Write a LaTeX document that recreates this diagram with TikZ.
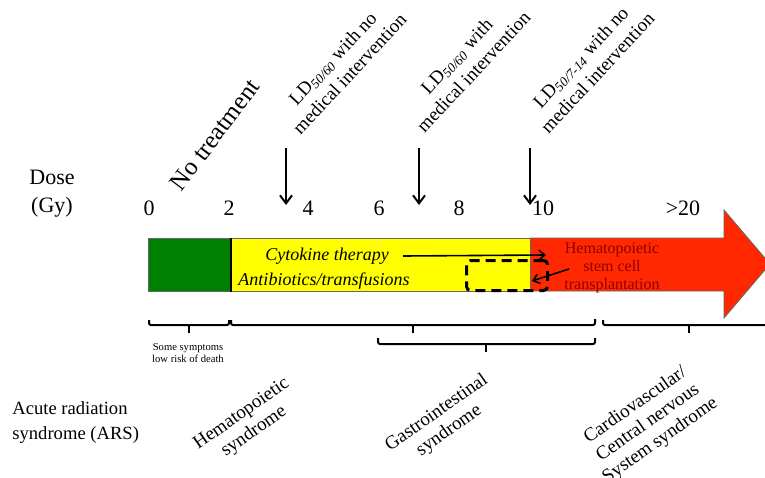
\documentclass[tikz,border=0pt]{standalone}
\usepackage{fontspec}
\setmainfont{Liberation Serif}
\usetikzlibrary{arrows.meta,positioning,calc}

\definecolor{dosegreen}{RGB}{0,128,0}
\definecolor{doseyellow}{RGB}{255,255,0}
\definecolor{dosered}{RGB}{255,40,0}
\definecolor{hsctred}{RGB}{140,0,0}

\begin{document}
\begin{tikzpicture}[x=0.5pt,y=-0.5pt,
    % Define styles for the bar, the labels and the lines
    bar/.style={
        draw=black!60,
        line width=0.4pt,
        anchor=north west,
        inner sep=0pt,
        minimum height=26.5pt
    },
    doselabel/.style={
        inner sep=0pt,
        font=\fontsize{11}{14}\selectfont
    },
    ldlabel/.style={
        inner sep=0pt,
        align=center,
        rotate=47,
        font=\fontsize{9.5}{11.5}\selectfont
    },
    arslabel/.style={
        inner sep=0pt,
        align=center,
        rotate=35,
        font=\fontsize{9.5}{10.8}\selectfont
    },
    treatment/.style={
        inner sep=0pt,
        font=\itshape\fontsize{9}{11}\selectfont
    },
    down/.style={
        draw,
        -{Straight Barb[length=4pt,width=6pt]},
        line width=1pt
    },
    line/.style={
        draw,
        -{Straight Barb[length=3pt,width=5pt]},
        line width=0.8pt
    },
    brace/.style={
        draw,
        line width=1pt,
        rounded corners=1pt
    },
    hsctbox/.style={
        draw,
        dash pattern=on 5pt off 3pt,
        line width=1.5pt,
        rounded corners=2pt,
        anchor=north west,
        inner sep=0pt,
        minimum width=40.5pt,
        minimum height=15pt
    }
]

\useasboundingbox (0,0) rectangle (765,477);

% The dose bar
\draw[draw=black!60, line width=0.4pt, fill=dosered]
    (530,238) -- (724,238) -- (724,210) -- (770,264) -- (724,318) -- (724,291) -- (530,291) -- cycle;
\node[bar, fill=dosegreen, minimum width=41pt] (none) at (148,238) {};
\node[bar, fill=doseyellow, minimum width=150pt] (cyto) at (230,238) {};
\draw[line width=1.2pt] (none.north east) -- (none.south east);

% Dose axis
\node[doselabel, align=center] (dose) at (52,194) {Dose\\(Gy)};
\foreach \v/\x in {0/149,2/229,4/308,6/379,8/459,10/543}
    \node[doselabel] (t\v) at (\x,208) {\v};
\node[doselabel] (tmax) at (683,208) {>20};

% Labels above the axis
\node[inner sep=0pt, rotate=53, font=\fontsize{12.5}{14}\selectfont] (notreat) at (215,135) {No treatment};
\node[ldlabel] (ldone) at (341,66) {LD\textsubscript{\textit{50/60}} with no\\medical intervention};
\node[ldlabel] (ldtwo) at (465,64) {LD\textsubscript{\textit{50/60}} with\\medical intervention};
\node[ldlabel] (ldthree) at (589,65) {LD\textsubscript{\textit{50/7-14}} with no\\medical intervention};

\coordinate (aone) at (286,148);
\coordinate (atwo) at (419,148);
\coordinate (athree) at (530,148);
\draw[down] (aone) -- ($(aone)+(0,57)$);
\draw[down] (atwo) -- ($(atwo)+(0,57)$);
\draw[down] (athree) -- ($(athree)+(0,57)$);

% Treatments
\node[treatment] (cytotext) at (327,256) {Cytokine therapy};
\node[treatment] (antitext) at (324,281) {Antibiotics/transfusions};
\node[inner sep=0pt, align=center, text=hsctred, font=\fontsize{8}{9}\selectfont] (hscttext) at (612,268)
    {Hematopoietic\\stem cell\\transplantation};
\node[hsctbox] (hsct) at (465,259) {};

\coordinate (cytoend) at (546,255);
\coordinate (hsctstart) at (569,269);
\coordinate (hsctend) at (532,281);
\draw[line] ([xshift=7pt]cytotext.east) -- (cytoend);
\draw[line] (hsctstart) -- (hsctend);

% Syndrome ranges
\draw[brace] (149,320) -- (149,325) -- (229,325) -- (229,320);
\draw[brace] (189,325) -- (189,333);
\draw[brace] (231,320) -- (231,325) -- (595,325) -- (595,319);
\draw[brace] (413,325) -- (413,333);
\draw[brace] (378,338) -- (378,344) -- (595,344) -- (595,338);
\draw[brace] (486,344) -- (486,352);
\draw[brace] (603,320) -- (603,325) -- (770,325);
\draw[brace] (689,325) -- (689,333);

\node[inner sep=0pt, align=center, font=\fontsize{5.3}{6}\selectfont] (mild) at (188,353)
    {Some symptoms\\low risk of death};

% Syndromes
\node[inner sep=0pt, align=left, anchor=west, font=\fontsize{9.3}{12.5}\selectfont] (ars) at (12,423)
    {Acute radiation\\syndrome (ARS)};
\node[arslabel] (hema) at (248,423) {Hematopoietic\\syndrome};
\node[arslabel] (gastro) at (443,422) {Gastrointestinal\\syndrome};
\node[arslabel] (cns) at (648,423) {Cardiovascular/\\Central nervous\\System syndrome};

\end{tikzpicture}
\end{document}
